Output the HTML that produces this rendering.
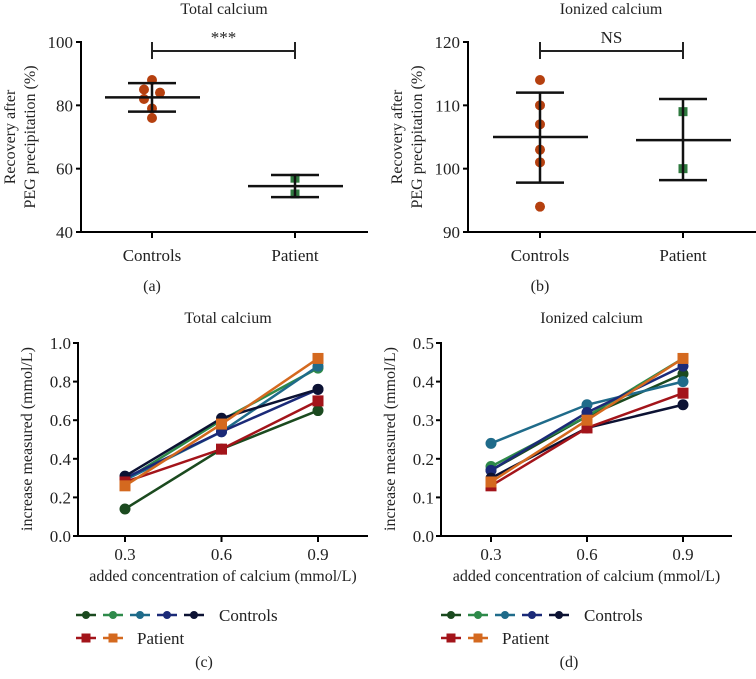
<!DOCTYPE html>
<html><head><meta charset="utf-8"><style>
body{margin:0;background:#fff}
svg{display:block;font-family:"Liberation Serif",serif}
</style></head><body>
<svg id="s" width="756" height="679" viewBox="0 0 756 679"></svg>
<script>
// Panel a/b data
const aControls=[88,85,84,82,79,76];
const aCtrlDx=[0,-8,8,-8,0,0];
const aPatient=[57,52];
const aStats={mean:[82.5,54.5],hi:[87,58],lo:[78,51]};
const bControls=[114,110,107,103,101,94];
const bPatient=[109,100];
const bStats={mean:[105,104.5],hi:[112,111],lo:[97.8,98.2]};
const groups=["Controls","Patient"];
const aTicks=[40,60,80,100];
const bTicks=[90,100,110,120];
// Panel c/d data
const xCats=[0.3,0.6,0.9];
const seriesNames=["control-1","control-2","control-3","control-4","control-5","patient-1","patient-2"];
const seriesColors=["#1b4a1f","#2e8a4a","#1f6b8a","#1b2a78","#0c1233","#a3141a","#d4691f"];
const seriesSquare=[false,false,false,false,false,true,true];
const cVals=[[0.14,0.45,0.65],[0.29,0.60,0.87],[0.29,0.54,0.88],[0.30,0.54,0.76],[0.31,0.61,0.76],[0.28,0.45,0.70],[0.26,0.58,0.92]];
const dVals=[[0.17,0.31,0.42],[0.18,0.31,0.46],[0.24,0.34,0.40],[0.17,0.32,0.44],[0.15,0.28,0.34],[0.13,0.28,0.37],[0.14,0.30,0.46]];
const cTicks=[0.0,0.2,0.4,0.6,0.8,1.0];
const dTicks=[0.0,0.1,0.2,0.3,0.4,0.5];

const S=document.getElementById('s');
const NS="http://www.w3.org/2000/svg";
function mk(tag,attrs,parent,name,text){
  const e=document.createElementNS(NS,tag);
  for(const k in attrs)e.setAttribute(k,attrs[k]);
  
  
  if(text!==undefined)e.textContent=text;
  (parent||S).appendChild(e);return e;
}
function line(x1,y1,x2,y2,w,c,name,p){return mk('line',{x1,y1,x2,y2,stroke:c||'#000','stroke-width':w||2},p,name);}
function txt(x,y,s,t,anchor,name,extra){return mk('text',Object.assign({x,y,'font-size':s,'text-anchor':anchor||'middle',fill:'#222'},extra||{}),null,name,t);}

function scatterPanel(o){
  const sy=v=>o.y0+(o.y1-o.y0)*(v-o.ticks[0])/(o.ticks[o.ticks.length-1]-o.ticks[0]);
  const g=mk('g',{},null,o.id);
  line(o.ax,o.y1-1,o.ax,o.y0,2,'#000','y-axis',g);
  line(o.ax,o.y0,o.axEnd,o.y0,2,'#000','x-axis',g);
  o.ticks.forEach(t=>{line(o.ax-5,sy(t),o.ax,sy(t),2,'#000','y-tick',g);
    txt(o.ax-8,sy(t)+6,17,String(t),'end','y-tick-label');});
  o.gx.forEach((x,i)=>{line(x,o.y0,x,o.y0+6,2,'#000','x-tick',g);
    txt(x,o.y0+29,17,groups[i],'middle','x-tick-label');});
  txt(o.titleX,14,16,o.title,'middle','panel-title');
  txt(o.gx[0],291,16,o.label,'middle','panel-label');
  const t=mk('text',{transform:`translate(${o.ax-66},137) rotate(-90)`,'font-size':16,'text-anchor':'middle',fill:'#222'},null,'y-axis-title');
  mk('tspan',{x:0,dy:0},t,'y-title-line1','Recovery after');
  mk('tspan',{x:0,dy:20},t,'y-title-line2','PEG precipitation (%)');
  line(o.gx[0],51,o.gx[1],51,2,'#222','significance-bar',g);
  line(o.gx[0],42,o.gx[0],59,2,'#222','significance-tick',g);
  line(o.gx[1],42,o.gx[1],59,2,'#222','significance-tick',g);
  txt((o.gx[0]+o.gx[1])/2,43,17,o.sig,'middle','significance-label');
  o.ctrl.forEach((v,i)=>mk('circle',{cx:o.gx[0]+(o.dx?o.dx[i]:0),cy:sy(v),r:5,fill:'#b5400f'},g,'control-point'));
  o.pat.forEach(v=>mk('rect',{x:o.gx[1]-4.5,y:sy(v)-4.5,width:9,height:9,fill:'#2f7a3f'},g,'patient-point'));
  o.gx.forEach((x,i)=>{
    line(x,sy(o.st.hi[i]),x,sy(o.st.lo[i]),2.5,'#111','error-bar',g);
    line(x-47,sy(o.st.mean[i]),x+48,sy(o.st.mean[i]),2.5,'#111','mean-line',g);
    line(x-24,sy(o.st.hi[i]),x+24,sy(o.st.hi[i]),2.5,'#111','error-cap-upper',g);
    line(x-24,sy(o.st.lo[i]),x+24,sy(o.st.lo[i]),2.5,'#111','error-cap-lower',g);
  });
}
scatterPanel({id:'panel-a',ax:81,axEnd:368,y0:232,y1:42,ticks:aTicks,gx:[152,295],ctrl:aControls,dx:aCtrlDx,pat:aPatient,st:aStats,title:'Total calcium',titleX:224,label:'(a)',sig:'***'});
scatterPanel({id:'panel-b',ax:468,axEnd:756,y0:232,y1:42,ticks:bTicks,gx:[540,683],ctrl:bControls,pat:bPatient,st:bStats,title:'Ionized calcium',titleX:611,label:'(b)',sig:'NS'});

function linePanel(o){
  const yMax=o.ticks[o.ticks.length-1];
  const sy=v=>536-193*v/yMax;
  const sx=v=>o.x0+(o.x2-o.x0)*(v-0.3)/0.6;
  const g=mk('g',{},null,o.id);
  line(o.ax,342,o.ax,536,2,'#000','y-axis',g);
  line(o.ax-5,536,o.axEnd,536,2,'#000','x-axis',g);
  o.ticks.forEach(t=>{line(o.ax-5,sy(t),o.ax,sy(t),2,'#000','y-tick',g);
    txt(o.ax-7,sy(t)+6,17,t.toFixed(1),'end','y-tick-label');});
  xCats.forEach(c=>{line(sx(c),536,sx(c),542,2,'#000','x-tick',g);
    txt(sx(c),560,17,String(c),'middle','x-tick-label');});
  txt((o.ax+o.axEnd)/2,581,16,'added concentration of calcium (mmol/L)','middle','x-axis-title');
  txt((o.ax+o.axEnd)/2+5,323,16,o.title,'middle','panel-title');
  mk('text',{transform:`translate(${o.ax-46},439) rotate(-90)`,'font-size':16,'text-anchor':'middle',fill:'#222'},null,'y-axis-title','increase measured (mmol/L)');
  o.vals.forEach((vs,si)=>{
    const pts=vs.map((v,i)=>sx(xCats[i])+','+sy(v)).join(' ');
    mk('polyline',{points:pts,fill:'none',stroke:seriesColors[si],'stroke-width':2.5},g,seriesNames[si]+'-line');
    vs.forEach((v,i)=>{
      if(seriesSquare[si])mk('rect',{x:sx(xCats[i])-5.5,y:sy(v)-5.5,width:11,height:11,fill:seriesColors[si]},g,seriesNames[si]+'-marker');
      else mk('circle',{cx:sx(xCats[i]),cy:sy(v),r:5.5,fill:seriesColors[si]},g,seriesNames[si]+'-marker');
    });
  });
  const lg=mk('g',{},null,'legend');
  for(let i=0;i<7;i++){
    const row=i<5?0:1, col=i<5?i:i-5;
    const x=o.lx+col*27, y=row?638:615;
    line(x,y,x+20,y,2.5,seriesColors[i],'legend-line',lg);
    if(seriesSquare[i])mk('rect',{x:x+5.5,y:y-4.5,width:9,height:9,fill:seriesColors[i]},lg,'legend-marker');
    else mk('circle',{cx:x+10,cy:y,r:4,fill:seriesColors[i]},lg,'legend-marker');
  }
  txt(o.lx+143,621,17,'Controls','start','legend-controls');
  txt(o.lx+61,644,17,'Patient','start','legend-patient');
  txt(o.lx+128,667,16,o.label,'middle','panel-label');
}
linePanel({id:'panel-c',ax:78,axEnd:368,x0:125,x2:318,vals:cVals,ticks:cTicks,title:'Total calcium',lx:76,label:'(c)'});
linePanel({id:'panel-d',ax:441,axEnd:732,x0:491,x2:683,vals:dVals,ticks:dTicks,title:'Ionized calcium',lx:441,label:'(d)'});
</script>
</body></html>
